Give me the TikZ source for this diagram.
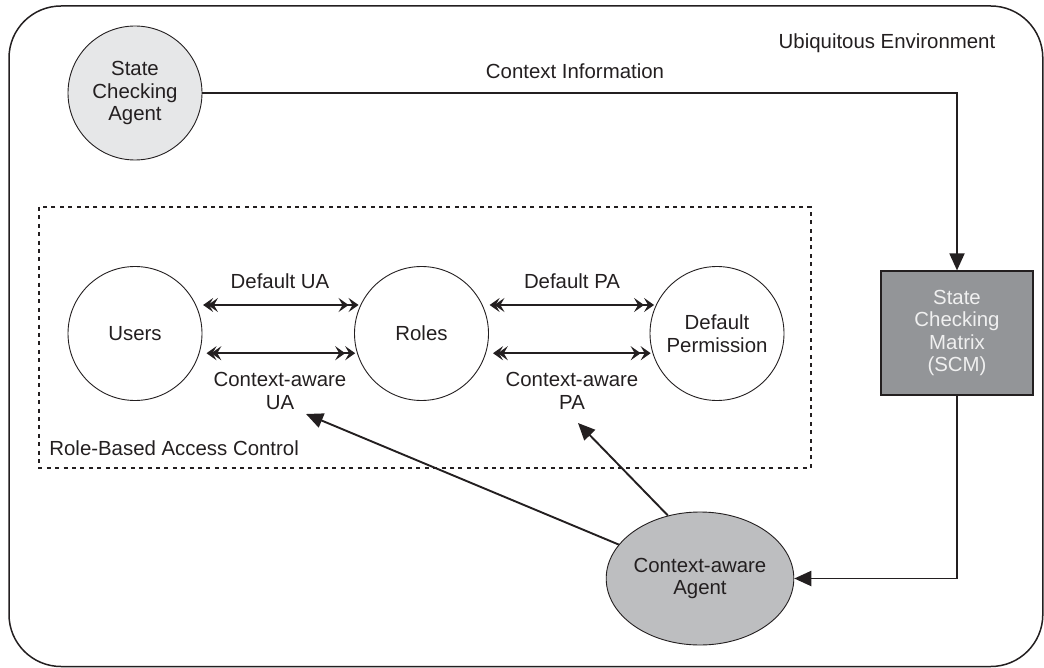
\documentclass[tikz,border=0pt]{standalone}
\usepackage{fontspec}
\setmainfont{Liberation Sans}
\usetikzlibrary{arrows.meta,shapes.geometric,calc}
\definecolor{lightfill}{HTML}{E6E7E8}
\definecolor{agentfill}{HTML}{BDBEC0}
\definecolor{scmfill}{HTML}{939598}
\definecolor{inkc}{HTML}{231F20}
\tikzset{
  txt/.style={font=\fontsize{10.2pt}{11.25pt}\selectfont, text=inkc, align=center, inner sep=0pt},
  circ/.style={circle, draw=inkc, line width=0.45pt, minimum size=67pt, inner sep=0pt, txt},
  conn/.style={draw=inkc, line width=0.95pt},
  bigtip/.style={conn, -{Triangle[length=8.5pt,width=7.5pt]}},
  dbl/.style={conn, {Stealth[length=5pt,width=7pt,inset=2pt]Stealth[length=5pt,width=7pt,inset=2pt,sep=-2.6pt]}-{Stealth[length=5pt,width=7pt,inset=2pt]Stealth[length=5pt,width=7pt,inset=2pt,sep=-2.6pt]}, shorten <=3.5pt, shorten >=3.5pt},
}
\begin{document}
\begin{tikzpicture}[x=0.5pt,y=-0.5pt]
\useasboundingbox (0,0) rectangle (1044,668);
% outer environment
\draw[inkc, line width=0.75pt, rounded corners=26pt] (9,6) rectangle (1042.8,666.5);
\node[txt] (env) at (887,43) {Ubiquitous Environment};
% RBAC dotted box
\draw[inkc, line width=0.8pt, dash pattern=on 2pt off 2.2pt] (39,207) rectangle (811,468);
\node[txt, anchor=west] (rbac) at (49,448) {Role-Based Access Control};
% nodes
\node[circ, fill=lightfill] (sca) at (135,93) {State\\Checking\\Agent};
\node[circ] (users) at (135,333.5) {Users};
\node[circ] (roles) at (421.5,333.5) {Roles};
\node[circ] (perm) at (717,333.5) {Default\\Permission};
\node[draw=inkc, line width=0.6pt, fill=scmfill, minimum width=76pt, minimum height=62pt, inner sep=0pt,
      txt, text=white!94!black] (scm) at (957,333) {State\\Checking\\Matrix\\(SCM)};
\node[ellipse, draw=inkc, line width=0.45pt, fill=agentfill, minimum width=83pt, minimum height=66.5pt, inner sep=0pt, txt] (agent) at (700,578.5) {Context-aware\\Agent};
% labels
\node[txt] (ctxinfo) at (575,71) {Context Information};
\node[txt] (dua) at (280,281) {Default UA};
\node[txt] (cua) at (280,391) {Context-aware\\UA};
\node[txt] (dpa) at (572,281) {Default PA};
\node[txt] (cpa) at (572,391) {Context-aware\\PA};
% connectors
\draw[bigtip] (sca.east) -| (scm.north);
\draw[bigtip] (scm.south) |- (agent.east);
\draw[dbl] (users.25) -- (roles.155);
\draw[dbl] (users.-17) -- (roles.-163);
\draw[dbl] (roles.25) -- (perm.155);
\draw[dbl] (roles.-17) -- (perm.-163);
\coordinate (uatip) at (306,414);
\coordinate (patip) at (578,423);
\draw[bigtip] (agent) -- (uatip);
\draw[bigtip] (agent.117) -- (patip);
\end{tikzpicture}
\end{document}
